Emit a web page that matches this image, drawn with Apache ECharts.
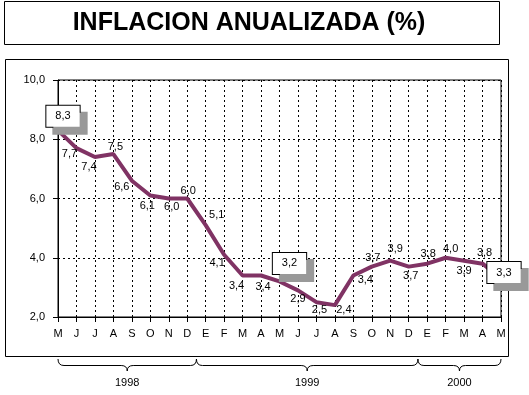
<!DOCTYPE html>
<html><head><meta charset="utf-8">
<script src="https://cdn.jsdelivr.net/npm/echarts@6/dist/echarts.min.js"></script>
<style>html,body{margin:0;padding:0;background:#fff}#c{width:529px;height:395px}</style>
</head><body><div id="c"></div>
<script>
// ---- data ----
const titleText = 'INFLACION ANUALIZADA (%)';
const months = ['M','J','J','A','S','O','N','D','E','F','M','A','M','J','J','A','S','O','N','D','E','F','M','A','M'];
const inflation = [8.3,7.7,7.4,7.5,6.6,6.1,6.0,6.0,5.1,4.1,3.4,3.4,3.2,2.9,2.5,2.4,3.4,3.7,3.9,3.7,3.8,4.0,3.9,3.8,3.3];
const years = ['1998','1999','2000'];
const monthsPerYear = [8,12,5];
const yMin = 2, yMax = 10, yStep = 2;
const boxedPoints = [0,12,24];

// ---- label placement (pixel offsets from each point) ----
const labelOffsets = [[5,-14],[-7,6],[-6,10],[2,-7],[-10,6],[-3,10],[3,8],[1,-8],[11,-10],[-7,8],[-6,10],[2,11],
  [10,-18],[0,9],[3,8],[9,5],[12,4],[1,-9],[5,-12],[2,9],[1,-10],[5,-9],[0,10],[2,-11],[3,-6]];

const FONT = "'Liberation Sans', Arial, sans-serif";
const fmt = v => v.toFixed(1).replace('.', ',');

const chart = echarts.init(document.getElementById('c'), null, {renderer:'canvas'});

const seriesData = inflation.map((v,i) => {
  const boxed = boxedPoints.indexOf(i) >= 0;
  const lab = {offset: labelOffsets[i]};
  if (boxed) {
    Object.assign(lab, {
      backgroundColor:'#fff', borderColor:'#000', borderWidth:1,
      padding:[4,9], lineHeight:13,
      shadowColor:'#999999', shadowBlur:0, shadowOffsetX:7, shadowOffsetY:7
    });
  }
  return {value: v, label: lab};
});

chart.setOption({
  animation:false,
  backgroundColor:'#fff',
  grid:{left:58, top:80, right:28, bottom:78, show:true, borderColor:'#000', borderWidth:1, backgroundColor:'transparent'},
  xAxis:{
    type:'category', data:months, boundaryGap:false,
    axisLine:{lineStyle:{color:'#000', width:1}},
    axisTick:{show:true, length:5, interval:0, lineStyle:{color:'#000'}},
    axisLabel:{color:'#000', fontFamily:FONT, fontSize:11, margin:11, interval:0},
    splitLine:{show:true, interval:0, lineStyle:{color:'#000', type:[2,3], width:1}}
  },
  yAxis:{
    type:'value', min:yMin, max:yMax, interval:yStep,
    axisLine:{show:true, lineStyle:{color:'#000', width:1}},
    axisTick:{show:true, length:5, lineStyle:{color:'#000'}},
    axisLabel:{color:'#000', fontFamily:FONT, fontSize:11, margin:13, formatter:v=>fmt(v)},
    splitLine:{show:true, lineStyle:{color:'#000', type:[2,3], width:1}}
  },
  series:[{
    type:'line', data:seriesData, clip:false,
    symbol:'circle', symbolSize:2,
    itemStyle:{color:'#803364'},
    lineStyle:{color:'#803364', width:4},
    label:{show:true, position:'inside', color:'#000', fontFamily:FONT, fontSize:11,
      formatter:p=>fmt(p.value)},
    z:3
  }]
});

// ---- decorations: frames, title, year braces ----
const p0 = chart.convertToPixel({xAxisIndex:0}, 0);
const p1 = chart.convertToPixel({xAxisIndex:0}, 1);
const step = p1 - p0;
const graphics = [
  {type:'rect', shape:{x:4.5, y:1.5, width:495, height:43}, style:{fill:'#fff', stroke:'#000', lineWidth:1}, z:-10},
  {type:'rect', shape:{x:5.5, y:59.5, width:503, height:297}, style:{fill:'#fff', stroke:'#000', lineWidth:1}, z:-10},
  {type:'text', x:249, y:23, style:{text:titleText, font:"bold 25px " + FONT, fill:'#000', textAlign:'center', textVerticalAlign:'middle'}, z:5}
];
const ln = {fill:null, stroke:'#000', lineWidth:1};
let start = 0;
monthsPerYear.forEach((n,g) => {
  const first = start, last = start + n - 1;
  const a = (g === 0) ? first : first - 0.5;
  const b = (g === monthsPerYear.length - 1) ? last : last + 0.5;
  const x0 = p0 + a*step, x1 = p0 + b*step, xm = (x0 + x1)/2;
  const y0 = 359, y1 = 365.5, y2 = 371, r = 6;
  graphics.push(
    {type:'bezierCurve', shape:{x1:x0, y1:y0, x2:x0+r, y2:y1, cpx1:x0, cpy1:y1}, style:ln, z:5},
    {type:'line', shape:{x1:x0+r, y1:y1, x2:xm-r, y2:y1}, style:ln, z:5},
    {type:'bezierCurve', shape:{x1:xm-r, y1:y1, x2:xm, y2:y2, cpx1:xm, cpy1:y1}, style:ln, z:5},
    {type:'bezierCurve', shape:{x1:xm, y1:y2, x2:xm+r, y2:y1, cpx1:xm, cpy1:y1}, style:ln, z:5},
    {type:'line', shape:{x1:xm+r, y1:y1, x2:x1-r, y2:y1}, style:ln, z:5},
    {type:'bezierCurve', shape:{x1:x1-r, y1:y1, x2:x1, y2:y0, cpx1:x1, cpy1:y1}, style:ln, z:5},
    {type:'text', x:xm, y:383, style:{text:years[g], font:"11px " + FONT, fill:'#000', textAlign:'center', textVerticalAlign:'middle'}, z:5}
  );
  start += n;
});
chart.setOption({graphic:graphics});
</script></body></html>
